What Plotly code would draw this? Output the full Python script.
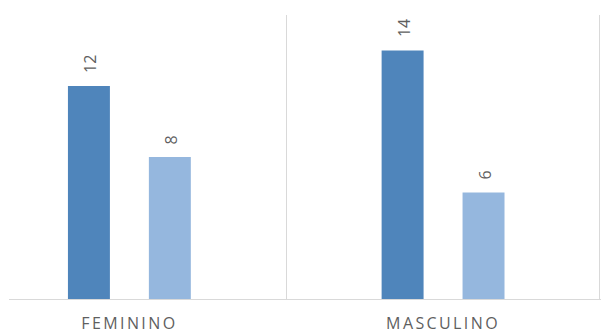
import plotly.graph_objects as go

categories = ["FEMININO", "MASCULINO"]
series_a = [12, 14]
series_b = [8, 6]
series_names = ["Serie 1", "Serie 2"]
colors = ["#4F85BB", "#95B7DE"]

W, H = 601, 333
LABEL_COLOR = "#5f5f5f"
FONT = "Open Sans"

fig = go.Figure()
for name, vals, col in zip(series_names, [series_a, series_b], colors):
    fig.add_trace(go.Bar(
        x=categories, y=vals, name=name,
        marker=dict(color=col, line=dict(width=0)),
        hoverinfo="x+y",
    ))

# value labels (rotated) above bars
group_offsets = [-40.5, 40.5]
for off, vals in zip(group_offsets, [series_a, series_b]):
    for c, v in zip(categories, vals):
        fig.add_annotation(
            x=c, y=v, xref="x", yref="y", text=str(v), showarrow=False,
            textangle=-90, yanchor="bottom", xanchor="center",
            xshift=off + 1, yshift=11,
            font=dict(family=FONT, size=16, color=LABEL_COLOR),
        )

fig.update_layout(
    width=W, height=H,
    margin=dict(l=0, r=0, t=15, b=34, autoexpand=False),
    paper_bgcolor="white", plot_bgcolor="white",
    barmode="group", bargap=0.484, bargroupgap=0.4815,
    showlegend=False,
    font=dict(family=FONT, color=LABEL_COLOR),
)
fig.update_xaxes(
    type="category",
    domain=[9 / W, 1],
    range=[-0.3838, 1.5035],
    tickson="boundaries",
    showgrid=True, gridcolor="#d9d9d9", gridwidth=1,
    showline=True, linecolor="#d9d9d9", linewidth=1,
    ticks="", ticklabelstandoff=10, automargin=False,
    tickfont=dict(family=FONT, size=16, color=LABEL_COLOR),
    zeroline=False,
)
fig.update_yaxes(
    range=[0, 16], showgrid=False, showticklabels=False,
    zeroline=False, showline=False, ticks="", automargin=False,
)

post = """
document.querySelectorAll('.xtick text').forEach(function(t){
  t.setAttribute('letter-spacing','2.4px');
});
"""
fig.write_html("out.html", post_script=post)
